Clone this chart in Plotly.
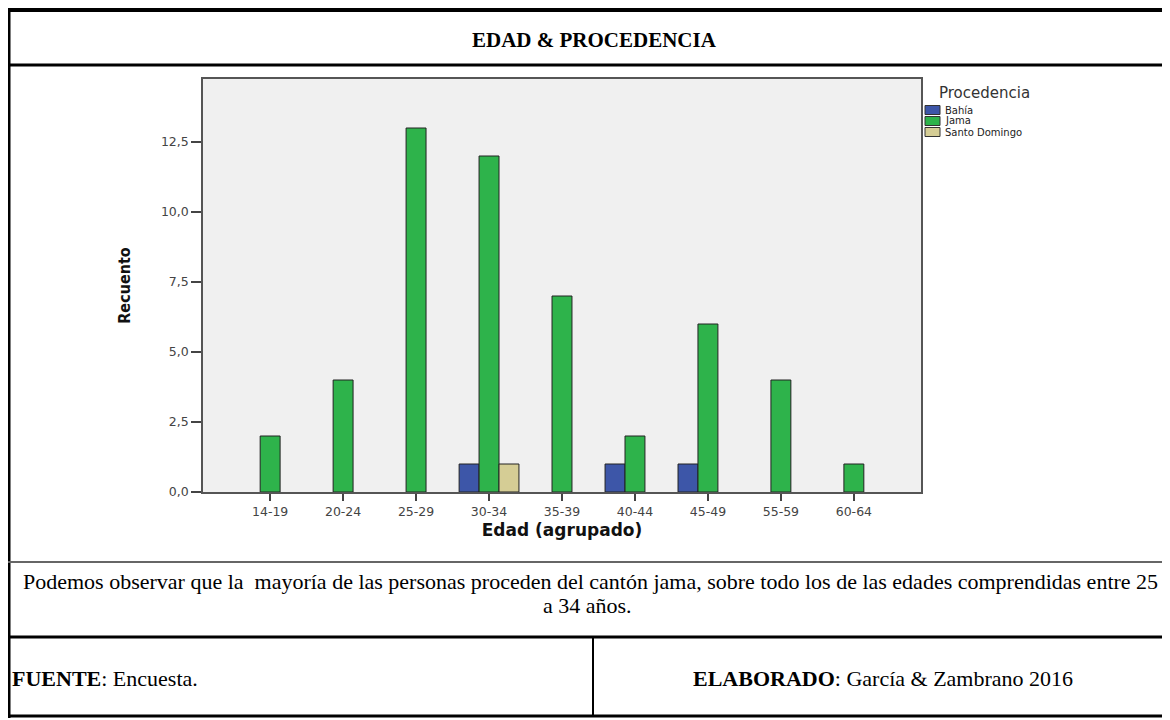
import plotly.graph_objects as go

# datos (recuento por grupo de edad y procedencia)
edades = ["14-19", "20-24", "25-29", "30-34", "35-39", "40-44", "45-49", "55-59", "60-64"]
bahia = [0, 0, 0, 1, 0, 1, 1, 0, 0]
jama = [2, 4, 13, 12, 7, 2, 6, 4, 1]
santo_domingo = [0, 0, 0, 1, 0, 0, 0, 0, 0]
procedencias = ["Bahía", "Jama", "Santo Domingo"]
y_ticks = [0, 2.5, 5, 7.5, 10, 12.5]

_COLORS = {"Bahía": "#3D56A8", "Jama": "#2EB34B", "Santo Domingo": "#D5CD95"}
_SERIF = "Liberation Serif, Times New Roman, serif"
_SANS = "DejaVu Sans, Arial, sans-serif"
_NARROW = "DejaVu Sans Condensed, Liberation Sans Narrow, sans-serif"

# la página añade 8px de margen: todo se mide en píxeles de la imagen y se corrige
OFF = 8
W, H = 1170 - OFF, 720 - OFF
L, R, T, B = 203, 921, 79, 492  # área del gráfico (coordenadas de la imagen)


def px(x):
    return (x - L) / (R - L)


def py(y):
    return (B - y) / (B - T)


fig = go.Figure()
series = {"Bahía": bahia, "Jama": jama, "Santo Domingo": santo_domingo}
for name in procedencias:
    vals = series[name]
    fig.add_trace(
        go.Bar(
            x=edades,
            y=vals,
            name=name,
            showlegend=False,
            marker={
                "color": _COLORS[name],
                "line": {"color": "#222", "width": [1 if v else 0 for v in vals]},
            },
        )
    )

# líneas de la tabla del documento
lines = [
    (8, 10, 1170, 10, 4, "#000"),
    (9, 8, 9, 718, 3, "#000"),
    (8, 65, 1170, 65, 3, "#000"),
    (8, 562, 1170, 562, 2, "#666"),
    (8, 637, 1170, 637, 3, "#000"),
    (593, 637, 593, 716, 2, "#000"),
    (8, 716, 1170, 716, 3, "#000"),
]
shapes = [
    dict(
        type="line", xref="paper", yref="paper",
        x0=px(x0), y0=py(y0), x1=px(x1), y1=py(y1),
        line={"color": c, "width": w},
    )
    for x0, y0, x1, y1, w, c in lines
]

annotations = [
    dict(text="<b>EDAD & PROCEDENCIA</b>", x=px(594), y=py(40), font={"family": _SERIF, "size": 21}),
    dict(
        text="Podemos observar que la  mayoría de las personas proceden del cantón jama, "
        "sobre todo los de las edades comprendidas entre 25",
        x=px(590), y=py(581), font={"family": _SERIF, "size": 22},
    ),
    dict(text="a 34 años.", x=px(587), y=py(605), font={"family": _SERIF, "size": 22}),
    dict(text="<b>FUENTE</b>: Encuesta.", x=px(10), y=py(678), xanchor="left",
         font={"family": _SERIF, "size": 22}),
    dict(text="<b>ELABORADO</b>: García & Zambrano 2016", x=px(883), y=py(678),
         font={"family": _SERIF, "size": 22}),
]

# leyenda compacta al estilo SPSS
annotations.append(
    dict(text="Procedencia", x=px(937), y=py(93), xanchor="left",
         font={"family": _SANS, "size": 15, "color": "#333"})
)
for i, name in enumerate(procedencias):
    yc = 110 + i * 11
    shapes.append(
        dict(
            type="rect", xref="paper", yref="paper",
            x0=px(925), x1=px(940), y0=py(yc - 4.5), y1=py(yc + 4.5),
            fillcolor=_COLORS[name], line={"color": "#333", "width": 1},
        )
    )
    annotations.append(
        dict(text=name, x=px(943), y=py(yc), xanchor="left",
             font={"family": _SANS, "size": 10, "color": "#222"})
    )

for a in annotations:
    a.update(xref="paper", yref="paper", showarrow=False, align="center", yanchor="middle")
    a.setdefault("xanchor", "center")
    a["font"].setdefault("color", "#000")

fig.update_layout(
    width=W,
    height=H,
    margin={"l": L - OFF, "r": 1170 - R, "t": T - OFF, "b": 720 - B},
    paper_bgcolor="white",
    plot_bgcolor="#F0F0F0",
    barmode="group",
    bargap=0.18,
    bargroupgap=0,
    separators=",.",
    font={"family": _SANS, "color": "#333"},
    shapes=shapes,
    annotations=annotations,
)
fig.update_xaxes(
    range=[-0.92, len(edades) - 1 + 0.92],
    showline=True, mirror=True, linecolor="#555", linewidth=1.5,
    ticks="outside", ticklen=7, tickcolor="#444", tickwidth=1.5,
    tickfont={"size": 12.5, "color": "#444"},
    title={"text": "<b>Edad (agrupado)</b>", "font": {"size": 17, "color": "#111"}, "standoff": 6},
    showgrid=False,
)
fig.update_yaxes(
    range=[0, 14.75],
    tickvals=y_ticks, tickformat=".1f",
    showline=True, mirror=True, linecolor="#555", linewidth=1.5,
    ticks="outside", ticklen=10, tickcolor="#444", tickwidth=1.5,
    tickfont={"size": 12.5, "color": "#444"},
    title={
        "text": "<b>Recuento</b>",
        "font": {"size": 16, "color": "#111", "family": _NARROW},
        "standoff": 26,
    },
    showgrid=False, zeroline=False,
)

fig.write_html("out.html")
